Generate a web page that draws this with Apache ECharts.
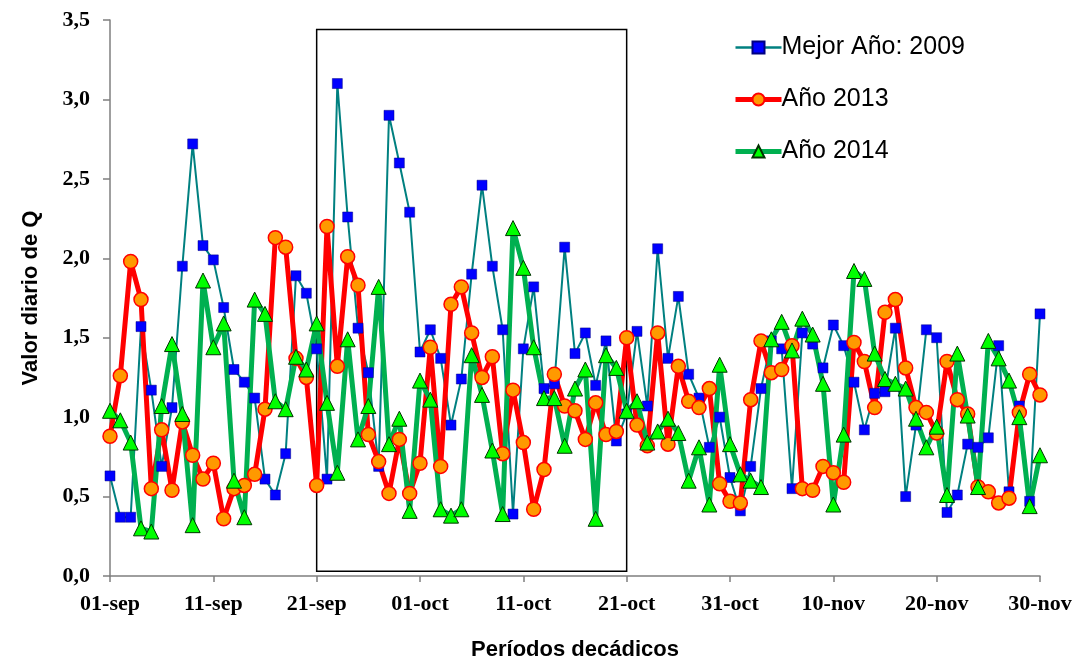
<!DOCTYPE html>
<html>
<head>
<meta charset="utf-8">
<script src="https://cdn.jsdelivr.net/npm/echarts@6/dist/echarts.min.js"></script>
<style>
  html, body { margin: 0; padding: 0; background: #fff; }
  #chart { width: 1078px; height: 666px; }
</style>
</head>
<body>
<div id="chart"></div>
<script>
// tick labels along the x axis, one every 10 days (day index 0..90)
const tickLabels = ["01-sep", "11-sep", "21-sep", "01-oct", "11-oct", "21-oct", "31-oct", "10-nov", "20-nov", "30-nov"];

// daily values, 01-sep .. 30-nov
const mejor2009 = [
  0.63, 0.37, 0.37, 1.57, 1.17, 0.69, 1.06, 1.95, 2.72, 2.08,
  1.99, 1.69, 1.30, 1.22, 1.12, 0.61, 0.51, 0.77, 1.89, 1.78,
  1.43, 0.61, 3.10, 2.26, 1.56, 1.28, 0.69, 2.90, 2.60, 2.29,
  1.41, 1.55, 1.37, 0.95, 1.24, 1.90, 2.46, 1.95, 1.55, 0.39,
  1.43, 1.82, 1.18, 1.21, 2.07, 1.40, 1.53, 1.20, 1.48, 0.85,
  1.02, 1.54, 1.07, 2.06, 1.37, 1.76, 1.27, 1.12, 0.81, 1.00,
  0.62, 0.41, 0.69, 1.18, 1.48, 1.43, 0.55, 1.53, 1.46, 1.31,
  1.58, 1.45, 1.22, 0.92, 1.15, 1.16, 1.56, 0.50, 0.95, 1.55,
  1.50, 0.40, 0.51, 0.83, 0.81, 0.87, 1.45, 0.53, 1.07, 0.47,
  1.65
];
const anio2013 = [
  0.88, 1.26, 1.98, 1.74, 0.55, 0.92, 0.54, 0.97, 0.76, 0.61,
  0.71, 0.36, 0.55, 0.57, 0.64, 1.05, 2.13, 2.07, 1.37, 1.25,
  0.57, 2.20, 1.32, 2.01, 1.83, 0.89, 0.72, 0.52, 0.86, 0.52,
  0.71, 1.44, 0.69, 1.71, 1.82, 1.53, 1.25, 1.38, 0.77, 1.17,
  0.84, 0.42, 0.67, 1.27, 1.07, 1.04, 0.86, 1.09, 0.89, 0.91,
  1.50, 0.95, 0.82, 1.53, 0.83, 1.32, 1.10, 1.06, 1.18, 0.58,
  0.47, 0.46, 1.11, 1.48, 1.28, 1.30, 1.45, 0.55, 0.54, 0.69,
  0.65, 0.59, 1.47, 1.35, 1.06, 1.66, 1.74, 1.31, 1.06, 1.03,
  0.90, 1.35, 1.11, 1.02, 0.56, 0.53, 0.46, 0.49, 1.03, 1.27,
  1.14
];
const anio2014 = [
  1.04, 0.98, 0.84, 0.30, 0.28, 1.07, 1.46, 1.02, 0.32, 1.86,
  1.44, 1.59, 0.60, 0.37, 1.74, 1.65, 1.10, 1.05, 1.38, 1.30,
  1.59, 1.09, 0.65, 1.49, 0.86, 1.07, 1.82, 0.83, 0.99, 0.41,
  1.23, 1.11, 0.42, 0.38, 0.42, 1.39, 1.14, 0.79, 0.39, 2.19,
  1.94, 1.44, 1.12, 1.12, 0.82, 1.18, 1.30, 0.36, 1.39, 1.31,
  1.04, 1.10, 0.84, 0.91, 0.99, 0.90, 0.60, 0.81, 0.45, 1.33,
  0.83, 0.64, 0.60, 0.56, 1.49, 1.60, 1.42, 1.62, 1.52, 1.21,
  0.45, 0.89, 1.92, 1.87, 1.40, 1.24, 1.21, 1.18, 0.99, 0.81,
  0.94, 0.51, 1.40, 1.01, 0.56, 1.48, 1.37, 1.23, 1.00, 0.44,
  0.76
];

// highlighted decade window (21-sep .. 21-oct)
const boxFrom = 20, boxTo = 50;

const toPairs = arr => arr.map((v, i) => [i, v]);
const serif = "'Liberation Serif', 'Times New Roman', serif";
const sans = "'Liberation Sans', Arial, sans-serif";

let chart = echarts.init(document.getElementById("chart"));

let option = {
  animation: false,
  backgroundColor: "#fff",
  grid: { left: 110, right: 38, top: 20, bottom: 81 },
  legend: {
    orient: "vertical",
    left: 728,
    top: 30,
    itemWidth: 46,
    itemHeight: 15,
    itemGap: 27,
    textStyle: { fontSize: 25, fontFamily: sans, color: "#000", padding: [0, 0, 0, -5] },
    data: [
      { name: "Mejor Año: 2009", lineStyle: { width: 2.5 } },
      { name: "Año 2013", lineStyle: { width: 5 } },
      { name: "Año 2014", lineStyle: { width: 5 } }
    ]
  },
  xAxis: {
    type: "value",
    min: 0,
    max: 90,
    interval: 10,
    name: "Períodos decádicos",
    nameLocation: "middle",
    nameGap: 63,
    nameTextStyle: { fontSize: 22, fontWeight: "bold", fontFamily: sans, color: "#000" },
    splitLine: { show: false },
    axisLine: { lineStyle: { color: "#7f7f7f", width: 1.5 } },
    axisTick: { length: 6, lineStyle: { color: "#7f7f7f", width: 1.5 } },
    axisLabel: {
      margin: 17,
      fontSize: 22,
      fontWeight: "bold",
      fontFamily: serif,
      color: "#000",
      formatter: v => tickLabels[Math.round(v / 10)]
    }
  },
  yAxis: {
    type: "value",
    min: 0,
    max: 3.5,
    interval: 0.5,
    name: "Valor diario de Q",
    nameLocation: "middle",
    nameGap: 68,
    nameTextStyle: { fontSize: 22, fontWeight: "bold", fontFamily: sans, color: "#000" },
    splitLine: { show: false },
    axisLine: { show: true, lineStyle: { color: "#7f7f7f", width: 1.5 } },
    axisTick: { show: true, length: 7, lineStyle: { color: "#7f7f7f", width: 1.5 } },
    axisLabel: {
      margin: 20,
      fontSize: 22,
      fontWeight: "bold",
      fontFamily: serif,
      color: "#000",
      formatter: v => v.toFixed(1).replace(".", ",")
    }
  },
  series: [
    {
      name: "Mejor Año: 2009",
      type: "line",
      data: toPairs(mejor2009),
      symbol: "rect",
      symbolSize: 10,
      lineStyle: { color: "#008080", width: 2 },
      itemStyle: { color: "#0000ff", borderColor: "#000080", borderWidth: 0.5 },
      markArea: {
        silent: true,
        itemStyle: { color: "rgba(0,0,0,0)", borderColor: "#000", borderWidth: 1.5 },
        data: [[{ xAxis: boxFrom, yAxis: 0.03 }, { xAxis: boxTo, yAxis: 3.44 }]]
      }
    },
    {
      name: "Año 2013",
      type: "line",
      data: toPairs(anio2013),
      symbol: "circle",
      symbolSize: 14,
      lineStyle: { color: "#ff0000", width: 5 },
      itemStyle: { color: "#ff9900", borderColor: "#ff0000", borderWidth: 1.5 }
    },
    {
      name: "Año 2014",
      type: "line",
      data: toPairs(anio2014),
      symbol: "triangle",
      symbolSize: 15,
      lineStyle: { color: "#00b050", width: 5 },
      itemStyle: { color: "#00ff00", borderColor: "#003300", borderWidth: 1 }
    }
  ]
};

chart.setOption(option);

window.addEventListener("resize", function() {
  chart.resize();
});
</script>
</body>
</html>
